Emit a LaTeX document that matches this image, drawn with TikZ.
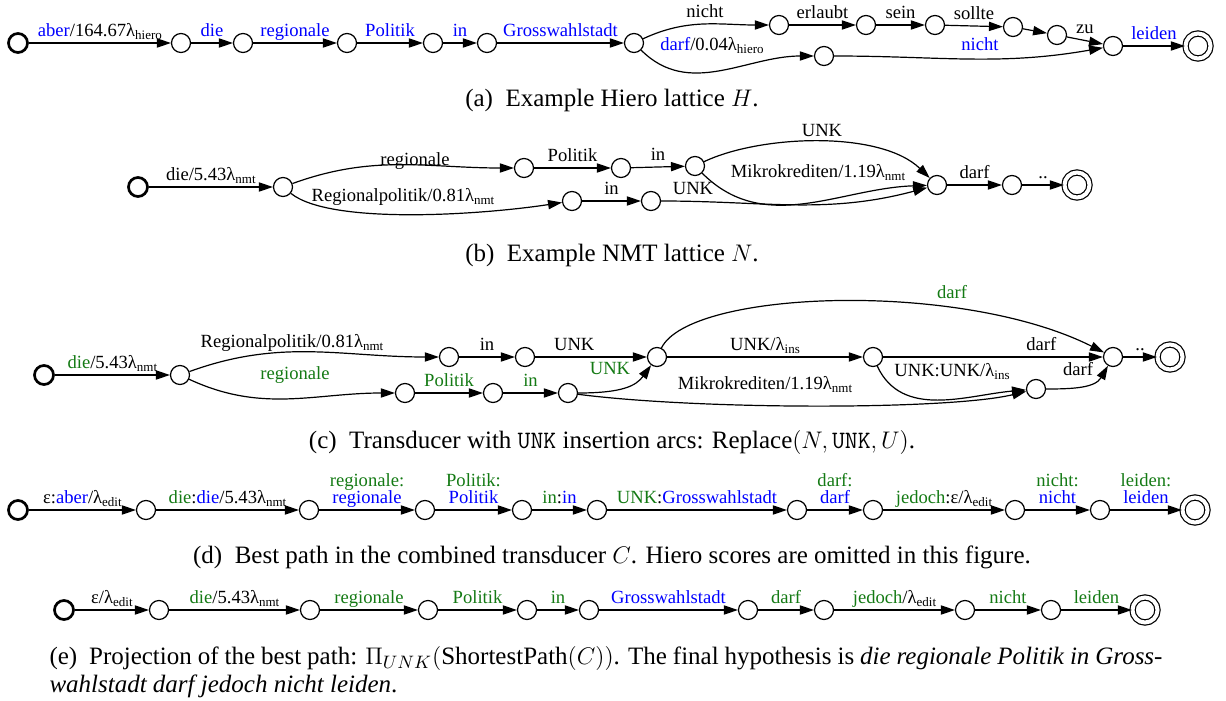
\documentclass[tikz,border=0pt]{standalone}
\usepackage{fontspec}
\setmainfont{Liberation Serif}
\usetikzlibrary{arrows.meta}
\definecolor{hyblue}{HTML}{0000FF}
\definecolor{nmtgreen}{HTML}{147A14}
\newcommand{\hyb}[1]{\textcolor{hyblue}{#1}}
\newcommand{\nmg}[1]{\textcolor{nmtgreen}{#1}}
\newcommand{\lam}[1]{λ\raisebox{-0.4ex}{\fontsize{6.5}{7}\selectfont #1}}

\begin{document}
\begin{tikzpicture}[
  x=0.5pt, y=-0.5pt,
  >={Triangle[length=7pt,width=4.6pt]},
  st/.style={circle, draw, line width=0.6pt, minimum size=9.5pt, inner sep=0pt},
  startst/.style={st, line width=1.35pt},
  fin/.style={circle, draw, line width=0.6pt, minimum size=12.5pt, inner sep=0pt, double, double distance=2pt},
  arc/.style={->, line width=0.6pt},
  lbl/.style={font=\fontsize{9.3}{8.6}\selectfont, inner sep=0.5pt, text depth=2.2pt, align=center},
  elbl/.style={lbl, above=0.3pt},
  captext/.style={font=\fontsize{12.5}{14}\selectfont, inner sep=0pt}
]
\useasboundingbox (0,0) rectangle (1226,701);

% (a) hiero lattice
\node[startst] (a0) at (18,43) {};
\node[st] (a1) at (181,43) {};
\node[st] (a2) at (243,43) {};
\node[st] (a3) at (347,43) {};
\node[st] (a4) at (433,43) {};
\node[st] (a5) at (487,43) {};
\node[st] (a6) at (634,43) {};
\node[st] (a7) at (779,25) {};
\node[st] (a8) at (866,25) {};
\node[st] (a9) at (935,25) {};
\node[st] (a10) at (1013,27) {};
\node[st] (a11) at (1057,35) {};
\node[st] (a12) at (824,56) {};
\node[st] (a13) at (1113,46) {};
\node[fin] (a14) at (1198,46) {};

\draw[arc] (a0) -- node[elbl] {\hyb{aber}/164.67\lam{hiero}} (a1);
\draw[arc] (a1) -- node[elbl] {\hyb{die}} (a2);
\draw[arc] (a2) -- node[elbl] {\hyb{regionale}} (a3);
\draw[arc] (a3) -- node[elbl] {\hyb{Politik}} (a4);
\draw[arc] (a4) -- node[elbl] {\hyb{in}} (a5);
\draw[arc] (a5) -- node[elbl] {\hyb{Grosswahlstadt}} (a6);
\draw[arc] (a6) to[out=25, in=180] (a7) node[lbl] at (705,13) {nicht};
\draw[arc] (a6) to[out=-45, in=180] (a12) node[lbl] at (712,46) {\hyb{darf}/0.04\lam{hiero}};
\draw[arc] (a7) -- node[elbl] {erlaubt} (a8);
\draw[arc] (a8) -- node[elbl] {sein} (a9);
\draw[arc] (a9) -- node[elbl] {sollte} (a10);
\draw[arc] (a10) -- (a11);
\draw[arc] (a11) -- node[elbl] {zu} (a13);
\draw[arc] (a12) to[out=0, in=190] (a13) node[lbl] at (980,46) {\hyb{nicht}};
\draw[arc] (a13) -- node[elbl] {\hyb{leiden}} (a14);

\node[captext] (capa) at (612,100) {(a)~~Example Hiero lattice $H$.};

% (b) nmt lattice
\node[startst] (b0) at (138,187) {};
\node[st] (b1) at (283,187) {};
\node[st] (b2) at (524,168) {};
\node[st] (b3) at (621,168) {};
\node[st] (b4) at (695,166) {};
\node[st] (b5) at (572,201) {};
\node[st] (b6) at (651,201) {};
\node[st] (b7) at (937,185) {};
\node[st] (b8) at (1012,185) {};
\node[fin] (b9) at (1077,185) {};

\draw[arc] (b0) -- node[elbl] {die/5.43\lam{nmt}} (b1);
\draw[arc] (b1) to[out=20, in=180] (b2) node[lbl] at (415,161) {regionale};
\draw[arc] (b2) -- node[elbl] {Politik} (b3);
\draw[arc] (b3) -- node[elbl] {in} (b4);
\draw[arc] (b4) .. controls (760,135) and (880,130) .. (b7) node[lbl] at (822,133) {UNK};
\draw[arc] (b4) to[out=-45, in=182] (b7) node[lbl] at (818,173) {Mikrokrediten/1.19\lam{nmt}};
\draw[arc] (b1) .. controls (330,225) and (480,215) .. (b5) node[lbl] at (403,197) {Regionalpolitik/0.81\lam{nmt}};
\draw[arc] (b5) -- node[elbl] {in} (b6);
\draw[arc] (b6) to[out=0, in=195] (b7) node[lbl] at (693,191) {UNK};
\draw[arc] (b7) -- node[elbl] {darf} (b8);
\draw[arc] (b8) -- node[elbl] {..} (b9);

\node[captext] (capb) at (612,255) {(b)~~Example NMT lattice $N$.};

% (c) transducer with UNK insertion
\node[startst] (c0) at (44,375) {};
\node[st] (c1) at (180,375) {};
\node[st] (c2) at (449,357) {};
\node[st] (c3) at (525,357) {};
\node[st] (c4) at (657,357) {};
\node[st] (c5) at (405,393) {};
\node[st] (c6) at (493,393) {};
\node[st] (c7) at (568,393) {};
\node[st] (c8) at (873,357) {};
\node[st] (c9) at (1036,389) {};
\node[st] (c10) at (1113,357) {};
\node[fin] (c11) at (1170,357) {};

\draw[arc] (c0) -- node[elbl] {\nmg{die}/5.43\lam{nmt}} (c1);
\draw[arc] (c1) to[out=20, in=180] (c2) node[lbl] at (292,343) {Regionalpolitik/0.81\lam{nmt}};
\draw[arc] (c2) -- node[elbl] {in} (c3);
\draw[arc] (c3) -- node[elbl, pos=0.35] {UNK} (c4);
\draw[arc] (c1) to[out=-25, in=180] (c5) node[lbl] at (295,375) {\nmg{regionale}};
\draw[arc] (c5) -- node[elbl] {\nmg{Politik}} (c6);
\draw[arc] (c6) -- node[elbl] {\nmg{in}} (c7);
\draw[arc] (c7) .. controls (622,393) and (636,386) .. (c4) node[lbl] at (610,371) {\nmg{UNK}};
\draw[arc] (c7) .. controls (700,410) and (950,410) .. (c9) node[lbl] at (765,385) {Mikrokrediten/1.19\lam{nmt}};
\draw[arc] (c4) .. controls (690,290) and (960,280) .. (c10) node[lbl] at (952,294) {\nmg{darf}};
\draw[arc] (c4) -- node[elbl] {UNK/\lam{ins}} (c8);
\draw[arc] (c8) -- node[elbl, pos=0.72] {darf} (c10);
\draw[arc] (c8) to[out=-65, in=185] (c9) node[lbl] at (952,372) {UNK:UNK/\lam{ins}};
\draw[arc] (c9) to[out=0, in=-120] (c10) node[lbl] at (1078,371) {darf};
\draw[arc] (c10) -- node[elbl] {..} (c11);

\node[captext] (capc) at (612,442) {(c)~~Transducer with \texttt{UNK} insertion arcs: Replace$(N,\mathtt{UNK},U)$.};

% (d) best path in C
\node[startst] (d0) at (18,510) {};
\node[st] (d1) at (146,510) {};
\node[st] (d2) at (309,510) {};
\node[st] (d3) at (425,510) {};
\node[st] (d4) at (522,510) {};
\node[st] (d5) at (597,510) {};
\node[st] (d6) at (797,510) {};
\node[st] (d7) at (873,510) {};
\node[st] (d8) at (1015,510) {};
\node[st] (d9) at (1100,510) {};
\node[fin] (d10) at (1195,510) {};

\draw[arc] (d0) -- node[elbl] {ε:\hyb{aber}/\lam{edit}} (d1);
\draw[arc] (d1) -- node[elbl] {\nmg{die}:\hyb{die}/5.43\lam{nmt}} (d2);
\draw[arc] (d2) -- node[elbl] {\nmg{regionale:}\\\hyb{regionale}} (d3);
\draw[arc] (d3) -- node[elbl] {\nmg{Politik:}\\\hyb{Politik}} (d4);
\draw[arc] (d4) -- node[elbl] {\nmg{in}:\hyb{in}} (d5);
\draw[arc] (d5) -- node[elbl] {\nmg{UNK}:\hyb{Grosswahlstadt}} (d6);
\draw[arc] (d6) -- node[elbl] {\nmg{darf:}\\\hyb{darf}} (d7);
\draw[arc] (d7) -- node[elbl] {\nmg{jedoch}:ε/\lam{edit}} (d8);
\draw[arc] (d8) -- node[elbl] {\nmg{nicht:}\\\hyb{nicht}} (d9);
\draw[arc] (d9) -- node[elbl] {\nmg{leiden:}\\\hyb{leiden}} (d10);

\node[captext] (capd) at (612,557) {(d)~~Best path in the combined transducer $C$. Hiero scores are omitted in this figure.};

% (e) projection
\node[startst] (e0) at (64,610) {};
\node[st] (e1) at (159,610) {};
\node[st] (e2) at (310,610) {};
\node[st] (e3) at (428,610) {};
\node[st] (e4) at (527,610) {};
\node[st] (e5) at (589,610) {};
\node[st] (e6) at (748,610) {};
\node[st] (e7) at (824,610) {};
\node[st] (e8) at (965,610) {};
\node[st] (e9) at (1051,610) {};
\node[fin] (e10) at (1145,610) {};

\draw[arc] (e0) -- node[elbl] {ε/\lam{edit}} (e1);
\draw[arc] (e1) -- node[elbl] {\nmg{die}/5.43\lam{nmt}} (e2);
\draw[arc] (e2) -- node[elbl] {\nmg{regionale}} (e3);
\draw[arc] (e3) -- node[elbl] {\nmg{Politik}} (e4);
\draw[arc] (e4) -- node[elbl] {\nmg{in}} (e5);
\draw[arc] (e5) -- node[elbl] {\hyb{Grosswahlstadt}} (e6);
\draw[arc] (e6) -- node[elbl] {\nmg{darf}} (e7);
\draw[arc] (e7) -- node[elbl] {\nmg{jedoch}/\lam{edit}} (e8);
\draw[arc] (e8) -- node[elbl] {\nmg{nicht}} (e9);
\draw[arc] (e9) -- node[elbl] {\nmg{leiden}} (e10);

\node[captext, text width=556.5pt, align=justify] (cape) at (606,672) {(e)~~Projection of the best path: $\Pi_{UNK}(\textrm{ShortestPath}(C))$. The final hypothesis is \textit{die regionale Politik in Gross-}\linebreak\textit{wahlstadt darf jedoch nicht leiden}.};
\end{tikzpicture}
\end{document}
